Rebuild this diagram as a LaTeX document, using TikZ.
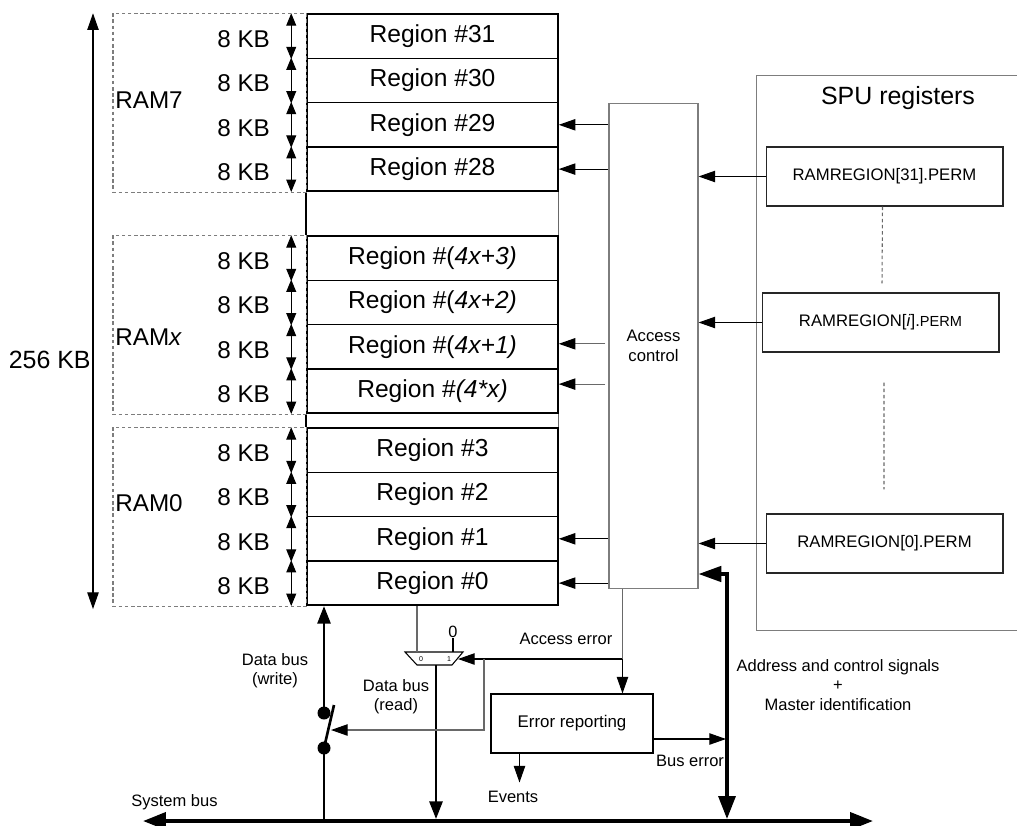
\documentclass[tikz,border=0pt]{standalone}
\usepackage{fontspec}
\setmainfont{Liberation Sans}
\usetikzlibrary{arrows.meta,calc}
\definecolor{wiregray}{RGB}{105,105,105}
\definecolor{boxgray}{RGB}{125,125,125}
\tikzset{
  regbox/.style={draw=black,line width=0.9pt,minimum width=5.02cm,minimum height=0.886cm,inner sep=0pt,font=\fontsize{14}{16}\selectfont},
  permbox/.style={draw=black!85,line width=0.6pt,minimum width=4.74cm,minimum height=1.18cm,inner sep=0pt,font=\fontsize{9.5}{11}\selectfont},
  accbox/.style={draw=boxgray,line width=0.6pt,minimum width=1.78cm,minimum height=9.72cm,align=center,font=\fontsize{9.5}{11.5}\selectfont},
  errbox/.style={draw=black,line width=0.6pt,minimum width=3.24cm,minimum height=1.18cm,font=\fontsize{9.6}{11}\selectfont},
  spubox/.style={draw=boxgray,line width=0.6pt,minimum width=5.48cm,minimum height=11.12cm},
  lbl/.style={font=\fontsize{9.4}{11}\selectfont,align=center,inner sep=0pt},
  kblbl/.style={anchor=east,font=\fontsize{13.8}{16}\selectfont,inner sep=0pt},
  ramlbl/.style={anchor=west,font=\fontsize{13.8}{16}\selectfont,inner sep=0pt},
  swdot/.style={circle,fill=black,inner sep=0pt,minimum size=0.26cm},
  arr/.style={-{Triangle[length=9.5pt,width=6.5pt]},draw=black,line width=0.6pt},
  grayarr/.style={-{Triangle[length=9.5pt,width=6.5pt,color=black]},draw=wiregray,line width=0.6pt},
  grayline/.style={draw=wiregray,line width=0.6pt},
  dblarr/.style={{Triangle[length=7pt,width=5.6pt]}-{Triangle[length=7pt,width=5.6pt]},line width=0.6pt},
  sizearr/.style={{Triangle[length=9.5pt,width=6.5pt]}-{Triangle[length=9.5pt,width=6.5pt]},line width=0.6pt},
  wline/.style={line width=1.5pt},
  databus/.style={-{Triangle[length=10pt,width=7.4pt]},line width=1.5pt},
  sysbus/.style={{Triangle[length=13pt,width=9.6pt]}-{Triangle[length=13pt,width=9.6pt]},line width=2.2pt},
  addrbus/.style={{Triangle[length=13pt,width=8.8pt]}-{Triangle[length=13pt,width=9.6pt]},line width=1.9pt},
  rambox/.style={draw=boxgray,dash pattern=on 2pt off 1.5pt,line width=0.6pt},
  sepline/.style={draw=wiregray,dash pattern=on 2pt off 1.5pt,line width=0.6pt}
}

\begin{document}
\begin{tikzpicture}[x=0.02cm,y=-0.02cm]
\useasboundingbox (0,0) rectangle (1017,825);
% memory regions
\node[regbox] (r31) at (432.5,36.2) {Region \#31};
\node[regbox] (r30) at (432.5,80.5) {Region \#30};
\node[regbox] (r29) at (432.5,124.8) {Region \#29};
\node[regbox] (r28) at (432.5,169.1) {Region \#28};
\node[regbox] (rx3) at (432.5,258.2) {Region \#(\textit{4x+3)}};
\node[regbox] (rx2) at (432.5,302.5) {Region \#(\textit{4x+2)}};
\node[regbox] (rx1) at (432.5,346.8) {Region \#(\textit{4x+1)}};
\node[regbox] (rx0) at (432.5,391.1) {Region \#\textit{(4*x)}};
\node[regbox] (r3) at (432.5,450.2) {Region \#3};
\node[regbox] (r2) at (432.5,494.5) {Region \#2};
\node[regbox] (r1) at (432.5,538.8) {Region \#1};
\node[regbox] (r0) at (432.5,583.1) {Region \#0};
\draw[line width=0.9pt] (r28.south west) -- (rx3.north west);
\draw[grayline] (r28.south east) -- (rx3.north east);
\draw[line width=0.9pt] (rx0.south west) -- (r3.north west);
\draw[grayline] (rx0.south east) -- (r3.north east);

% RAM blocks
\coordinate (ramL) at (113,0);
\draw[rambox] (ramL |- r31.north) rectangle (r28.south west);
\draw[rambox] (ramL |- rx3.north) rectangle (rx0.south west);
\draw[rambox] (ramL |- r3.north) rectangle (r0.south west);
\node[ramlbl] (ram7) at (115,100) {RAM7};
\node[ramlbl] (ramx) at (115,337) {RAM\textit{x}};
\node[ramlbl] (ram0) at (115,503) {RAM0};

% 8 KB sizes
\node[kblbl] (kb31) at ($(r31.west)+(-36,3)$) {8 KB};
\node[kblbl] (kb30) at ($(r30.west)+(-36,3)$) {8 KB};
\node[kblbl] (kb29) at ($(r29.west)+(-36,3)$) {8 KB};
\node[kblbl] (kb28) at ($(r28.west)+(-36,3)$) {8 KB};
\node[kblbl] (kbx3) at ($(rx3.west)+(-36,3)$) {8 KB};
\node[kblbl] (kbx2) at ($(rx2.west)+(-36,3)$) {8 KB};
\node[kblbl] (kbx1) at ($(rx1.west)+(-36,3)$) {8 KB};
\node[kblbl] (kbx0) at ($(rx0.west)+(-36,3)$) {8 KB};
\node[kblbl] (kb3) at ($(r3.west)+(-36,3)$) {8 KB};
\node[kblbl] (kb2) at ($(r2.west)+(-36,3)$) {8 KB};
\node[kblbl] (kb1) at ($(r1.west)+(-36,3)$) {8 KB};
\node[kblbl] (kb0) at ($(r0.west)+(-36,3)$) {8 KB};
\draw[dblarr] ($(r31.north west)+(-15,0)$) -- ($(r31.south west)+(-15,0)$);
\draw[dblarr] ($(r30.north west)+(-15,0)$) -- ($(r30.south west)+(-15,0)$);
\draw[dblarr] ($(r29.north west)+(-15,0)$) -- ($(r29.south west)+(-15,0)$);
\draw[dblarr] ($(r28.north west)+(-15,0)$) -- ($(r28.south west)+(-15,0)$);
\draw[dblarr] ($(rx3.north west)+(-15,0)$) -- ($(rx3.south west)+(-15,0)$);
\draw[dblarr] ($(rx2.north west)+(-15,0)$) -- ($(rx2.south west)+(-15,0)$);
\draw[dblarr] ($(rx1.north west)+(-15,0)$) -- ($(rx1.south west)+(-15,0)$);
\draw[dblarr] ($(rx0.north west)+(-15,0)$) -- ($(rx0.south west)+(-15,0)$);
\draw[dblarr] ($(r3.north west)+(-15,0)$) -- ($(r3.south west)+(-15,0)$);
\draw[dblarr] ($(r2.north west)+(-15,0)$) -- ($(r2.south west)+(-15,0)$);
\draw[dblarr] ($(r1.north west)+(-15,0)$) -- ($(r1.south west)+(-15,0)$);
\draw[dblarr] ($(r0.north west)+(-15,0)$) -- ($(r0.south west)+(-15,0)$);

% total size
\coordinate (sz) at (93,0);
\draw[sizearr] (sz |- r31.north) -- ($(sz |- r0.south)+(0,3)$);
\node[anchor=east,font=\fontsize{14.2}{16}\selectfont,inner sep=0pt] (kb256) at (91,360) {256 KB};

% access control and SPU registers
\node[accbox] (acc) at (653.5,346) {Access\\control};
\draw[arr] (acc.west |- r29.east) -- (r29.east);
\draw[arr] (acc.west |- r28.east) -- (r28.east);
\draw[grayarr] ($(acc.west |- rx1.east)+(-3,-3)$) -- ($(rx1.east)+(0,-3)$);
\draw[grayarr] ($(acc.west |- rx0.east)+(-3,-7)$) -- ($(rx0.east)+(0,-7)$);
\draw[arr] (acc.west |- r1.east) -- (r1.east);
\draw[arr] (acc.west |- r0.east) -- (r0.east);
\node[spubox] (spu) at (893,353) {};
\node[font=\fontsize{14.2}{16}\selectfont] (spuT) at (898,98) {SPU registers};
\node[permbox] (p31) at (884.5,176.5) {RAMREGION[31].PERM};
\node[permbox] (pi) at (880.5,322.5) {RAMREGION[\textit{i}].{\fontsize{8.3}{10}\selectfont PERM}};
\node[permbox] (p0) at (884.5,543.5) {RAMREGION[0].PERM};
\draw[arr] (p31.west) -- (acc.east |- p31.west);
\draw[arr] (pi.west) -- (acc.east |- pi.west);
\draw[arr] (p0.west) -- (acc.east |- p0.west);
\draw[sepline] ($(p31.south)+(-2,0)$) -- ($(pi.north)+(1.5,-9)$);
\draw[sepline] ($(pi.south)+(3.5,30)$) -- ($(p0.north)+(-0.5,-24)$);

% system bus
\coordinate (busL) at (143,821);
\coordinate (busR) at (873,821);
\draw[sysbus] (busL) -- (busR);
\node[lbl,anchor=west] (sbl) at (131,802) {System bus};

% write path with switch
\node[swdot] (swlo) at (324,748) {};
\node[swdot] (swhi) at (324,713) {};
\coordinate (blade) at (334,705);
\draw[wline] (swlo |- busL) -- (swlo.center);
\draw[wline] (swlo.center) -- (blade);
\draw[databus] (swhi.center) -- (swhi |- r0.south);
\node[lbl] (dwlbl) at (275,670.5) {Data bus\\(write)};

% read path with mux
\coordinate (m0) at (417,652);
\coordinate (m1) at (453,652);
\coordinate (mo) at (436,665);
\coordinate (ms) at (458,659);
\draw[line width=0.6pt] (405,652) -- (463,652) -- (452,665) -- (417,665) -- cycle;
\node[font=\fontsize{4}{4}\selectfont,inner sep=0pt] (mux0) at (421,659.5) {0};
\node[font=\fontsize{4}{4}\selectfont,inner sep=0pt] (mux1) at (449,659.5) {1};
\node[font=\fontsize{9.3}{10}\selectfont,inner sep=0pt] (zero) at (453,632) {0};
\draw[line width=0.6pt] (zero.south) -- (m1);
\draw[grayline] (r0.south -| m0) -- (m0);
\draw[databus] (mo) -- ($(mo |- busL)+(0,-2)$);
\node[lbl] (drlbl) at (396,697) {Data bus\\(read)};

% error signalling
\coordinate (accout) at ($(acc.south west)+(14,0)$);
\coordinate (aebr) at (484,659);
\coordinate (swctl) at (331,730);
\node[errbox] (err) at (572,723.5) {Error reporting};
\draw[grayline] (accout) -- (accout |- ms);
\draw[arr] (accout |- ms) -- (accout |- err.north);
\draw[arr] (accout |- ms) -- (ms);
\draw[grayarr] (aebr) |- (swctl);
\node[lbl] (aelbl) at (566,639) {Access error};
\coordinate (addr) at (727,574);
\coordinate (berr) at ($(err.east)+(0,15.5)$);
\draw[arr] (berr) -- ($(berr -| addr)+(-1,0)$);
\node[lbl] (belbl) at (690,761) {Bus error};
\coordinate (evt) at ($(err.south west)+(29,0)$);
\draw[arr] (evt) -- ($(evt)+(0,29)$);
\node[lbl] (events) at (513,797) {Events};

% address and control
\draw[addrbus] (acc.east |- addr) -- (addr) -- ($(addr |- busL)+(0,-2)$);
\node[lbl] (addrlbl) at (838,685) {Address and control signals\\+\\Master identification};
\end{tikzpicture}
\end{document}
